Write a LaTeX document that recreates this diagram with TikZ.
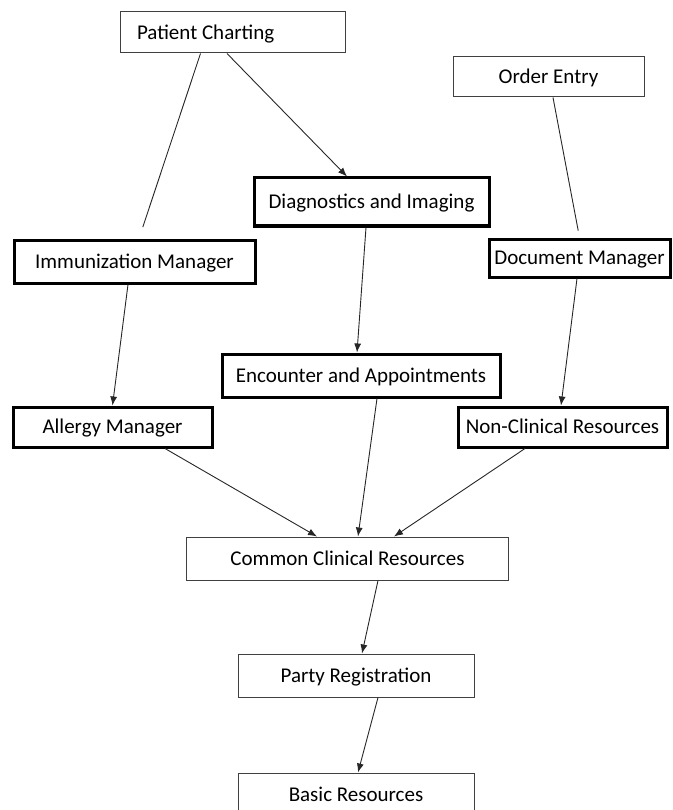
\documentclass[tikz,border=0pt]{standalone}
\usepackage{fontspec}
\setmainfont{Carlito}
\usetikzlibrary{arrows.meta}

\begin{document}
\begin{tikzpicture}[x=1pt, y=-1pt,
				>={Latex[length=9pt,width=7pt]},   %Pfeilspitzen
				modul/.style={draw, rectangle, inner sep=0pt, text height=13.5pt, text depth=0pt, font=\fontsize{21}{25}\selectfont},
				thinbox/.style={modul, draw=black!75, line width=1pt},
				thickbox/.style={modul, draw=black, line width=3pt},
				pfeil/.style={->, draw=black!85, line width=0.9pt},
				linie/.style={draw=black!85, line width=0.9pt}]
				%Bildbereich
				\useasboundingbox (0,0) rectangle (672,810);
				% obere Reihe
				\node[thinbox, minimum width=225, minimum height=41, text width=191, align=flush left] (charting) at (232.5,32.5) {Patient Charting};
				\node[thinbox, minimum width=191, minimum height=40] (order) at (548.5,77) {Order Entry};
				\node[thickbox, minimum width=235, minimum height=48] (diag) at (371.5,202) {Diagnostics and Imaging};
				\node[thickbox, minimum width=241, minimum height=43] (immun) at (134.5,261.5) {Immunization Manager};
				\node[thickbox, minimum width=181, minimum height=38] (docman) at (579.5,258) {Document Manager};
				% mittlere Reihe
				\node[thickbox, minimum width=278, minimum height=43] (encounter) at (361,375.5) {Encounter and Appointments};
				\node[thickbox, minimum width=199, minimum height=40] (allergy) at (112.5,427) {Allergy Manager};
				\node[thickbox, minimum width=209, minimum height=40] (nonclin) at (562.5,427) {Non-Clinical Resources};
				% untere Reihe
				\node[thinbox, minimum width=322, minimum height=43] (common) at (347.5,558.5) {Common Clinical Resources};
				\node[thinbox, minimum width=236, minimum height=43] (party) at (356,675.5) {Party Registration};
				\node[thinbox, minimum width=236, minimum height=43] (basic) at (356,794.5) {Basic Resources};
				%Verbindungen zeichnen
				\draw[linie, shorten >=12pt] ([xshift=-32pt]charting.south) -- ([xshift=4.5pt]immun.north);
				\draw[pfeil] ([xshift=-5.5pt]charting.south) -- ([xshift=-24.5pt]diag.north);
				\draw[linie, shorten >=7pt] ([xshift=4.5pt]order.south) -- (docman.north);
				\draw[pfeil] ([xshift=-6.5pt]immun.south) -- (allergy.north);
				\draw[pfeil] ([xshift=-5.5pt]diag.south) -- ([xshift=-4pt]encounter.north);
				\draw[pfeil] ([xshift=-2.5pt]docman.south) -- ([xshift=-1.5pt]nonclin.north);
				\draw[pfeil] ([xshift=52.5pt]allergy.south) -- ([xshift=-30.5pt]common.north);
				\draw[pfeil] ([xshift=16pt]encounter.south) -- ([xshift=10.5pt]common.north);
				\draw[pfeil] ([xshift=-37.5pt]nonclin.south) -- ([xshift=46.5pt]common.north);
				\draw[pfeil] ([xshift=30.5pt]common.south) -- ([xshift=6pt]party.north);
				\draw[pfeil] ([xshift=22pt]party.south) -- ([xshift=2pt]basic.north);
\end{tikzpicture}
\end{document}
